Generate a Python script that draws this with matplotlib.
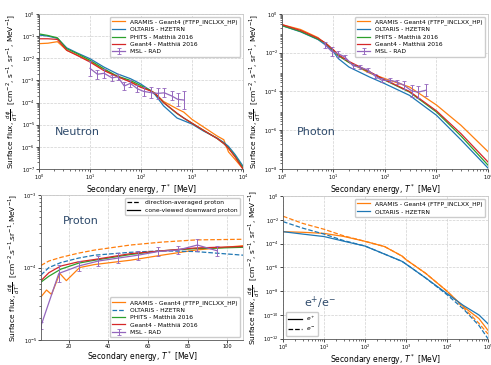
import numpy as np
import matplotlib
matplotlib.use('Agg')
import matplotlib.pyplot as plt
from matplotlib.lines import Line2D

# ---- data ----
# neutron
n_E = [1, 1.5, 2.3, 3.5, 5.6, 10, 18.5, 34, 62, 97, 152, 190, 277, 510, 690, 1000, 1680, 3100, 4200, 5200, 7000, 10000]
n_aramis = [4.57e-2, 4.79e-2, 5.62e-2, 2.29e-2, 1.41e-2, 7.41e-3, 3.02e-3, 1.51e-3, 8.9e-4, 5.2e-4, 3.55e-4, 2.63e-4,
            1.12e-4, 5.2e-5, 3.7e-5, 1.74e-5, 7.9e-6, 3.1e-6, 2.1e-6, 5.9e-7, 2.7e-7, 1.02e-7]
n_oltaris = [0.112, 0.1, 7.94e-2, 2.95e-2, 1.74e-2, 9.55e-3, 4.07e-3, 2.0e-3, 1.2e-3, 7.1e-4, 3.55e-4, 2.24e-4,
             7.1e-5, 2.0e-5, 1.51e-5, 1.07e-5, 5.2e-6, 2.5e-6, 1.58e-6, 1.05e-6, 4.5e-7, 1.35e-7]
n_phits = [0.126, 0.107, 8.32e-2, 2.69e-2, 1.62e-2, 8.13e-3, 3.39e-3, 1.58e-3, 1.0e-3, 6.03e-4, 3.55e-4, 2.51e-4,
           1.0e-4, 3.16e-5, 2.0e-5, 1.17e-5, 5.6e-6, 2.4e-6, 1.41e-6, 8.9e-7, 3.8e-7, 1.12e-7]
n_geant4 = [7.59e-2, 7.59e-2, 7.08e-2, 2.29e-2, 1.35e-2, 6.76e-3, 2.82e-3, 1.51e-3, 8.5e-4, 5.0e-4, 3.39e-4, 2.51e-4,
            1.0e-4, 3.3e-5, 2.0e-5, 1.17e-5, 5.6e-6, 2.4e-6, 1.41e-6, 8.5e-7, 3.5e-7, 1.0e-7]
n_msl_E = [10, 14, 19, 27, 35, 47, 62, 85, 112, 158, 214, 288, 398, 525, 692]
n_msl = [3.5e-3, 1.9e-3, 2.1e-3, 1.3e-3, 1.45e-3, 5.6e-4, 7.4e-4, 4.2e-4, 3.2e-4, 2.8e-4, 2.6e-4, 2.75e-4, 2.0e-4, 1.4e-4, 1.3e-4]
n_msl_dex = [0.35, 0.2, 0.2, 0.15, 0.15, 0.2, 0.15, 0.15, 0.2, 0.25, 0.25, 0.2, 0.2, 0.3, 0.4]

# photon
g_E = [1, 2.3, 5, 7, 10, 12.4, 20, 50, 100, 300, 1000, 3000, 10000]
g_aramis = [0.282, 0.158, 6.03e-2, 2.82e-2, 1.26e-2, 7.08e-3, 3.16e-3, 8.9e-4, 4.6e-4, 1.7e-4, 2.0e-5, 1.78e-6, 7.9e-8]
g_oltaris = [0.251, 0.120, 4.79e-2, 2.51e-2, 1.12e-2, 5.01e-3, 1.82e-3, 5.6e-4, 2.5e-4, 6.3e-5, 5.9e-6, 3.16e-7, 1.12e-8]
g_phits = [0.251, 0.126, 5.01e-2, 3.16e-2, 1.32e-2, 7.08e-3, 3.16e-3, 1.0e-3, 3.8e-4, 9.3e-5, 8.7e-6, 5.0e-7, 1.58e-8]
g_geant4 = [0.282, 0.141, 5.62e-2, 3.16e-2, 1.41e-2, 7.94e-3, 3.55e-3, 1.05e-3, 3.98e-4, 1.0e-4, 1.0e-5, 6.6e-7, 2.3e-8]
g_msl_E = [6.8, 9.2, 12.4, 16.7, 24, 32.6, 47, 64, 87, 125, 168, 234, 330, 445, 616]
g_msl = [2.63e-2, 1.17e-2, 8.9e-3, 6.0e-3, 2.1e-3, 1.8e-3, 1.26e-3, 6.3e-4, 3.8e-4, 3.8e-4, 3.16e-4, 2.1e-4, 1.07e-4, 9.3e-5, 1.15e-4]
g_msl_dex = [0.15, 0.25, 0.15, 0.12, 0.12, 0.1, 0.1, 0.1, 0.1, 0.1, 0.1, 0.2, 0.3, 0.3, 0.3]

# proton
p_E = [6, 10, 16, 25, 33, 51, 67, 84, 108]
p_aramis_avg = [1.07e-4, 1.23e-4, 1.38e-4, 1.58e-4, 1.74e-4, 2.04e-4, 2.24e-4, 2.4e-4, 2.45e-4]
p_oltaris_avg = [7.9e-5, 1.0e-4, 1.17e-4, 1.35e-4, 1.48e-4, 1.62e-4, 1.7e-4, 1.66e-4, 1.48e-4]
p_phits = [6.3e-5, 7.6e-5, 9.5e-5, 1.15e-4, 1.26e-4, 1.51e-4, 1.7e-4, 1.82e-4, 1.9e-4]
p_geant4 = [6.6e-5, 8.5e-5, 1.05e-4, 1.2e-4, 1.29e-4, 1.55e-4, 1.7e-4, 1.86e-4, 1.95e-4]
p_aramis_E = [6.1, 8.8, 11.3, 15.5, 18.8, 25.5, 33, 51, 67, 84, 108]
p_aramis = [3.98e-5, 4.9e-5, 4.27e-5, 8.3e-5, 6.6e-5, 1.0e-4, 1.1e-4, 1.26e-4, 1.48e-4, 1.74e-4, 2.0e-4]
p_msl_E = [6, 15, 25, 35, 45, 55, 65, 75, 85, 95]
p_msl = [1.58e-5, 8.3e-5, 1.05e-4, 1.23e-4, 1.35e-4, 1.48e-4, 1.66e-4, 1.74e-4, 2.04e-4, 1.7e-4]
p_msl_dex = [0.05, 0.12, 0.07, 0.07, 0.07, 0.06, 0.06, 0.06, 0.08, 0.07]

# electrons / positrons
e_E = [1, 3, 10, 30, 100, 300, 800, 1000, 3000, 1e4, 2.5e4, 6e4, 1e5]
e_aramis_pos = [1.0e-3, 8.9e-4, 7.2e-4, 4.0e-4, 1.55e-4, 5.6e-5, 8.9e-6, 4.5e-6, 3.2e-7, 1.0e-8, 5.0e-10, 5.0e-11, 5.0e-12]
e_aramis_neg = [2.0e-2, 5.0e-3, 1.6e-3, 4.5e-4, 1.55e-4, 5.6e-5, 8.9e-6, 4.5e-6, 3.2e-7, 1.0e-8, 4.0e-10, 2.0e-11, 2.5e-12]
e_oltaris_pos = [1.0e-3, 6.3e-4, 3.9e-4, 1.6e-4, 6.2e-5, 1.3e-5, 3.2e-6, 1.9e-6, 1.3e-7, 6.2e-9, 6.3e-10, 1.0e-10, 1.8e-11]
e_oltaris_neg = [7.0e-3, 2.0e-3, 6.3e-4, 1.8e-4, 6.2e-5, 1.3e-5, 3.2e-6, 1.9e-6, 1.3e-7, 5.0e-9, 3.2e-10, 1.3e-11, 1.0e-12]

# ---- styling ----
C_AR, C_OL, C_PH, C_G4, C_MSL = '#ff7f0e', '#1f77b4', '#2ca02c', '#d62728', '#9467bd'
LW = 0.9
XLAB = 'Secondary energy, $T^*$ [MeV]'
YLAB = r'Surface flux, $\frac{d\phi}{dT^*}$  [cm$^{-2}$, s$^{-1}$, sr$^{-1}$, MeV$^{-1}$]'
YLAB_P = r'Surface flux, $\frac{d\phi}{dT^*}$  [cm$^{-2}$.s$^{-1}$.sr$^{-1}$.MeV$^{-1}$]'
TXT_C = '#2e4a6b'
LEG = dict(fontsize=4.3, handlelength=2.2, borderpad=0.4, labelspacing=0.35,
           framealpha=1, edgecolor='#cccccc')


def style(ax):
    ax.grid(True, which='major', color='#d0d0d0', ls='--', lw=0.5)
    ax.tick_params(labelsize=3.6, length=2, width=0.5, pad=1)
    ax.tick_params(which='minor', length=1.2, width=0.4)
    for s in ['top', 'right']:
        ax.spines[s].set_color('#c8c8c8')
    for s in ['left', 'bottom']:
        ax.spines[s].set_color('#555555')
    for s in ax.spines.values():
        s.set_linewidth(0.6)
    ax.set_xlabel(XLAB, fontsize=5.5, labelpad=0)


def msl(ax, x, y, dex):
    y = np.array(y)
    d = np.array(dex)
    err = [y - y / 10 ** d, y * 10 ** d - y]
    ax.errorbar(x, y, yerr=err, color=C_MSL, lw=LW, elinewidth=0.7, capsize=1.2, capthick=0.6,
                label='MSL - RAD')


fig = plt.figure(figsize=(4.91, 3.65), dpi=100)

# Neutron
ax = fig.add_axes([0.0794, 0.537, 0.4155, 0.4247])
ax.plot(n_E, n_aramis, color=C_AR, lw=LW, label='ARAMIS - Geant4 (FTFP_INCLXX_HP)')
ax.plot(n_E, n_oltaris, color=C_OL, lw=LW, label='OLTARIS - HZETRN')
ax.plot(n_E, n_phits, color=C_PH, lw=LW, label='PHITS - Matthiä 2016')
ax.plot(n_E, n_geant4, color=C_G4, lw=LW, label='Geant4 - Matthiä 2016')
msl(ax, n_msl_E, n_msl, n_msl_dex)
ax.set_xscale('log')
ax.set_yscale('log')
ax.set_xlim(1, 1e4)
ax.set_ylim(1e-7, 1)
ax.set_yticks([10.0 ** k for k in range(-7, 1)])
style(ax)
ax.set_ylabel(YLAB, fontsize=5.3, labelpad=1)
ax.text(0.08, 0.22, 'Neutron', transform=ax.transAxes, fontsize=8, color=TXT_C)
ax.legend(loc='upper right', **LEG)

# Photon
ax = fig.add_axes([0.5743, 0.537, 0.4196, 0.4247])
ax.plot(g_E, g_aramis, color=C_AR, lw=LW, label='ARAMIS - Geant4 (FTFP_INCLXX_HP)')
ax.plot(g_E, g_oltaris, color=C_OL, lw=LW, label='OLTARIS - HZETRN')
ax.plot(g_E, g_phits, color=C_PH, lw=LW, label='PHITS - Matthiä 2016')
ax.plot(g_E, g_geant4, color=C_G4, lw=LW, label='Geant4 - Matthiä 2016')
msl(ax, g_msl_E, g_msl, g_msl_dex)
ax.set_xscale('log')
ax.set_yscale('log')
ax.set_xlim(1, 1e4)
ax.set_ylim(1e-8, 1)
ax.set_yticks([10.0 ** k for k in range(-8, 1, 2)])
style(ax)
ax.set_ylabel(YLAB, fontsize=5.3, labelpad=1)
ax.text(0.07, 0.22, 'Photon', transform=ax.transAxes, fontsize=8, color=TXT_C)
ax.legend(loc='upper right', **LEG)

# Proton
ax = fig.add_axes([0.0835, 0.068, 0.4114, 0.398])
ax.plot(p_aramis_E, p_aramis, color=C_AR, lw=LW, label='ARAMIS - Geant4 (FTFP_INCLXX_HP)')
ax.plot(p_E, p_aramis_avg, color=C_AR, lw=LW, ls='--')
ax.plot(p_E, p_oltaris_avg, color=C_OL, lw=LW, ls='--', label='OLTARIS - HZETRN')
ax.plot(p_E, p_phits, color=C_PH, lw=LW, label='PHITS - Matthiä 2016')
ax.plot(p_E, p_geant4, color=C_G4, lw=LW, label='Geant4 - Matthiä 2016')
msl(ax, p_msl_E, p_msl, p_msl_dex)
ax.set_yscale('log')
ax.set_xlim(6, 108)
ax.set_ylim(1e-5, 1e-3)
ax.set_xticks([20, 40, 60, 80, 100])
style(ax)
ax.set_ylabel(YLAB_P, fontsize=5.3, labelpad=1)
ax.text(0.11, 0.8, 'Proton', transform=ax.transAxes, fontsize=8, color=TXT_C)
leg1 = ax.legend(loc='lower right', **LEG)
ax.add_artist(leg1)
ax.legend([Line2D([], [], color='k', ls='--', lw=LW), Line2D([], [], color='k', lw=LW)],
          ['direction-averaged proton', 'cone-viewed downward proton'],
          loc='upper right', **LEG)

# e+/e-
ax = fig.add_axes([0.5764, 0.072, 0.4175, 0.391])
ax.plot(e_E, e_aramis_pos, color=C_AR, lw=LW, label='ARAMIS - Geant4 (FTFP_INCLXX_HP)')
ax.plot(e_E, e_aramis_neg, color=C_AR, lw=LW, ls='--')
ax.plot(e_E, e_oltaris_pos, color=C_OL, lw=LW, label='OLTARIS - HZETRN')
ax.plot(e_E, e_oltaris_neg, color=C_OL, lw=LW, ls='--')
ax.set_xscale('log')
ax.set_yscale('log')
ax.set_xlim(1, 1e5)
ax.set_ylim(1e-12, 1)
ax.set_yticks([10.0 ** k for k in range(-12, 1, 2)])
style(ax)
ax.set_ylabel(YLAB, fontsize=5.3, labelpad=1)
ax.text(0.10, 0.22, 'e$^{+}$/e$^{-}$', transform=ax.transAxes, fontsize=8, color=TXT_C)
leg1 = ax.legend(loc='upper right', **LEG)
ax.add_artist(leg1)
ax.legend([Line2D([], [], color='k', lw=LW), Line2D([], [], color='k', ls='--', lw=LW)],
          ['$e^+$', '$e^-$'], loc='lower left', **LEG)

fig.savefig('out.png', dpi=100)
